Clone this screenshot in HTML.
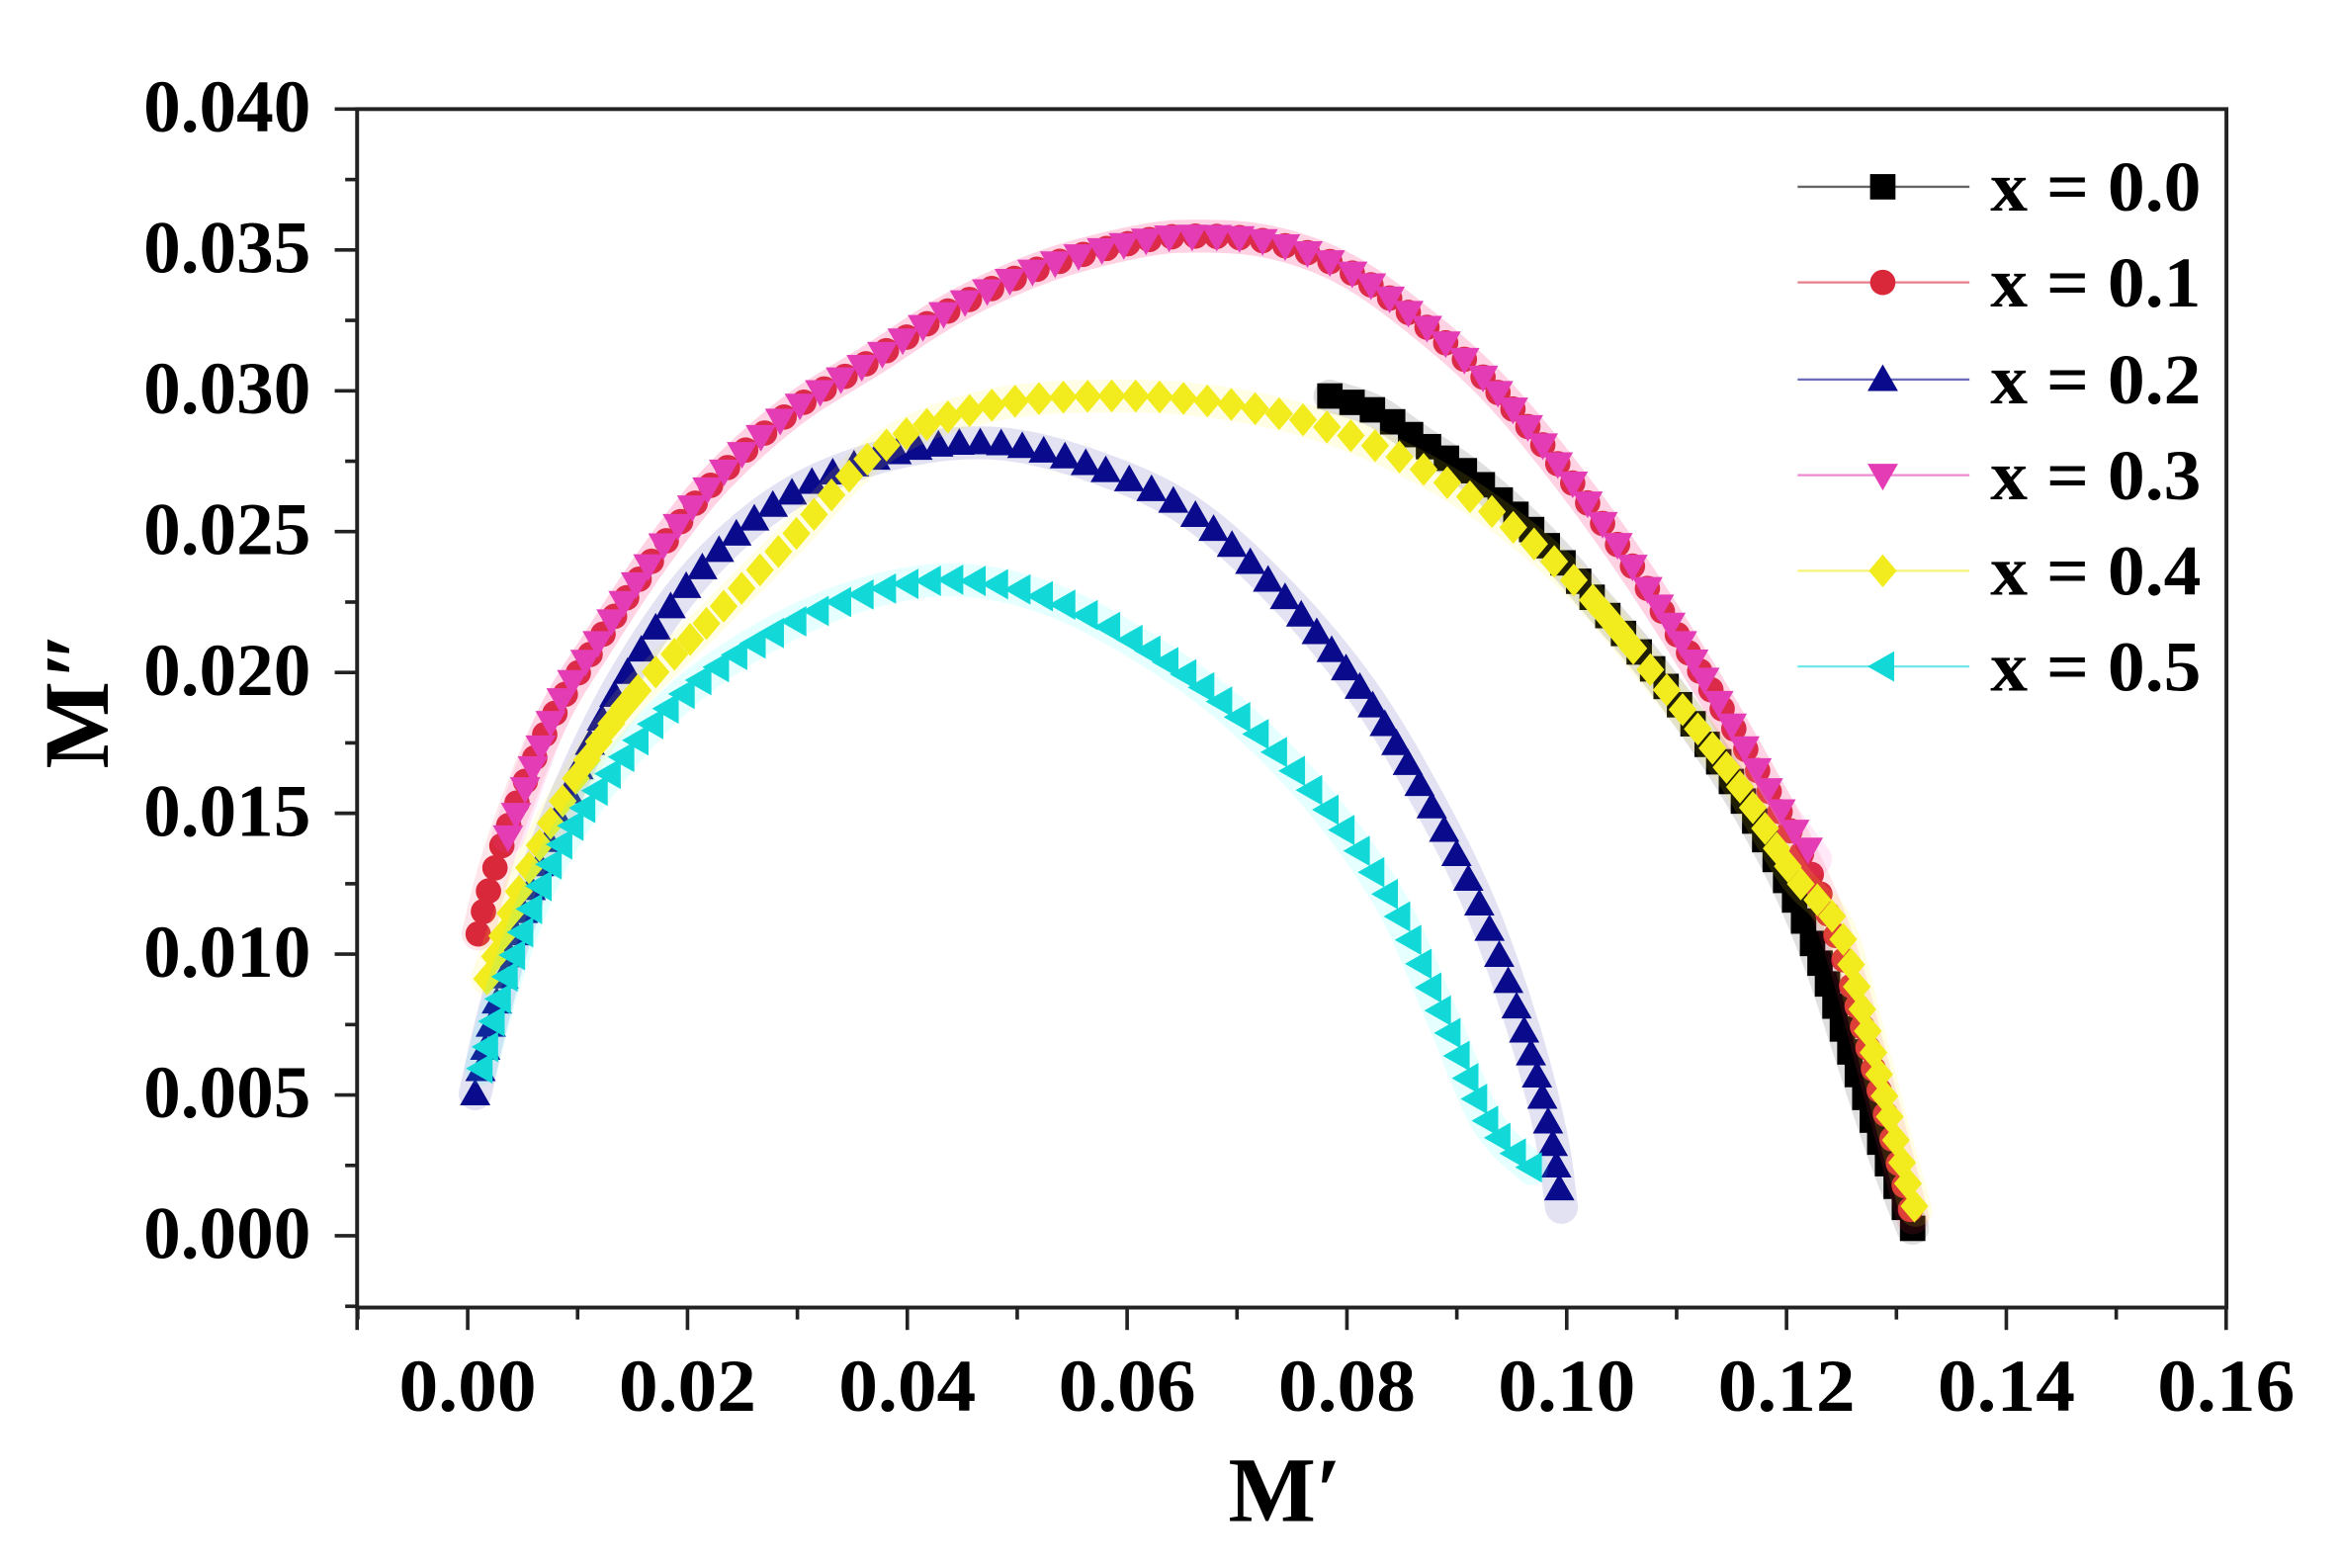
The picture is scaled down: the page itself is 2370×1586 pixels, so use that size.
<!DOCTYPE html>
<html><head><meta charset="utf-8"><style>
html,body{margin:0;padding:0;background:#fff;}
svg{display:block;}
text{font-family:"Liberation Serif",serif;font-weight:bold;fill:#000;}
</style></head><body>
<svg id="s" width="2370" height="1586" viewBox="0 0 1568 1049.3" xmlns="http://www.w3.org/2000/svg">
<rect x="0" y="0" width="1568" height="1050" fill="#fff"/>
<g id="series"></g>
<g id="axes" stroke="#222" stroke-width="2.6" fill="none">
<rect x="239" y="73" width="1251" height="802"/>
</g>
<g id="ticks" stroke="#222" stroke-width="2.4"></g>
<g id="labels" font-size="50"></g>
<g id="legend"></g>
<text x="0" y="0" font-size="62" text-anchor="middle" transform="translate(72,468) rotate(-90)">M″</text>
<text x="860" y="1018" font-size="62" text-anchor="middle">M′</text>
</svg>
<script>
var NS="http://www.w3.org/2000/svg";
function el(t,a,p){var e=document.createElementNS(NS,t);for(var k in a)e.setAttribute(k,a[k]);(p||document.getElementById('s')).appendChild(e);return e;}
var T=document.getElementById('ticks'),L=document.getElementById('labels');
for(var i=0;i<=8;i++){var y=827-i*94.25;el('line',{x1:224,y1:y,x2:239,y2:y},T);
 var t=el('text',{x:208,y:y+15,'text-anchor':'end',textLength:112,lengthAdjust:'spacingAndGlyphs'},L);t.textContent=(i*0.005).toFixed(3);}
for(var i=-1;i<=8;i++){var y=827-i*94.25-47.1;if(y>73&&y<875)el('line',{x1:231,y1:y,x2:239,y2:y},T);}
for(var i=0;i<=8;i++){var x=313+i*147.1;el('line',{x1:x,y1:875,x2:x,y2:890},T);
 var t=el('text',{x:x,y:944,'text-anchor':'middle',textLength:92,lengthAdjust:'spacingAndGlyphs'},L);t.textContent=(i*0.02).toFixed(2);}
for(var i=-1;i<8;i++){var x=313+i*147.1+73.55;el('line',{x1:x,y1:875,x2:x,y2:883},T);}
el('line',{x1:239,y1:875,x2:239,y2:890},T);

function cr(pts,step){var out=[];var dense=[];
 for(var i=0;i<pts.length-1;i++){var p0=pts[Math.max(0,i-1)],p1=pts[i],p2=pts[i+1],p3=pts[Math.min(pts.length-1,i+2)];
  for(var k=0;k<20;k++){var t=k/20,t2=t*t,t3=t2*t;
   var f=function(a,b,c,d){return 0.5*((2*b)+(-a+c)*t+(2*a-5*b+4*c-d)*t2+(-a+3*b-3*c+d)*t3);};
   dense.push([f(p0[0],p1[0],p2[0],p3[0]),f(p0[1],p1[1],p2[1],p3[1])]);}}
 dense.push(pts[pts.length-1]);
 var acc=0;out.push(dense[0]);
 for(var i=1;i<dense.length;i++){var dx=dense[i][0]-dense[i-1][0],dy=dense[i][1]-dense[i-1][1];acc+=Math.sqrt(dx*dx+dy*dy);if(acc>=step){out.push(dense[i]);acc=0;}}
 return {m:out,d:dense};}
function marker(g,type,x,y,c,r){
 if(type=='sq')el('rect',{x:x-r,y:y-r,width:2*r,height:2*r,fill:c},g);
 else if(type=='ci')el('circle',{cx:x,cy:y,r:r,fill:c},g);
 else if(type=='up')el('polygon',{points:(x)+','+(y-r*1.2)+' '+(x-r*1.2)+','+(y+r*0.9)+' '+(x+r*1.2)+','+(y+r*0.9),fill:c},g);
 else if(type=='dn')el('polygon',{points:(x)+','+(y+r*1.2)+' '+(x-r*1.2)+','+(y-r*0.9)+' '+(x+r*1.2)+','+(y-r*0.9),fill:c},g);
 else if(type=='di')el('polygon',{points:x+','+(y-r*1.3)+' '+(x+r*1.1)+','+y+' '+x+','+(y+r*1.3)+' '+(x-r*1.1)+','+y,fill:c},g);
 else if(type=='lf')el('polygon',{points:(x-r*1.2)+','+y+' '+(x+r*0.9)+','+(y-r*1.2)+' '+(x+r*0.9)+','+(y+r*1.2),fill:c},g);
}
var S=document.getElementById('series');
var series=[
 {n:0,c:'#000',h:'#000',t:'sq',p:[[890,265],[920,275],[950,295],[980,315],[1010,340],[1040,370],[1070,405],[1100,440],[1130,480],[1160,525],[1180,560],[1200,600],[1220,650],[1240,710],[1260,770],[1280,822]]},
 {n:1,c:'#d8283a',h:'#ff3050',t:'ci',p:[[320,625],[330,585],[345,540],[370,480],[400,430],[440,370],[480,320],[530,275],[585,240],[640,205],[700,178],[760,162],[800,158],[850,162],[900,180],[950,215],[1000,260],[1050,320],[1100,390],[1150,470],[1200,560],[1230,630],[1255,720],[1280,815]]},
 {n:3,c:'#e43cb4',h:'#ff40c0',t:'dn',p:[[340,560],[370,480],[400,430],[440,370],[480,320],[530,275],[585,240],[640,205],[700,178],[760,162],[800,158],[850,162],[900,180],[950,215],[1000,260],[1050,320],[1100,390],[1150,470],[1190,540],[1215,575]]},
 {n:2,c:'#0a0a8c',h:'#1010a0',t:'up',p:[[318,732],[330,680],[350,610],[380,530],[420,450],[470,380],[530,330],[600,303],[670,297],[740,315],[800,345],[860,400],[910,460],[950,525],[990,605],[1020,690],[1038,760],[1045,808]]},
 {n:4,c:'#f2ec1e',h:'#fff020',t:'di',p:[[326,655],[350,590],[380,530],[420,470],[470,420],[530,360],[590,300],[660,272],[740,265],[820,270],[900,290],[980,330],[1050,385],[1110,455],[1160,520],[1200,585],[1230,620],[1250,690],[1268,760],[1282,810]]},
 {n:5,c:'#12d8d8',h:'#30ffff',t:'lf',p:[[322,715],[340,650],[370,575],[410,515],[460,462],[520,422],[580,397],[640,388],[700,400],[760,430],[820,472],[880,532],[930,602],[965,680],[995,750],[1025,782]]}
];
series.forEach(function(s){var g=el('g',{},S);var r=cr(s.p,14);
 var d='M'+r.d.map(function(q){return q[0].toFixed(1)+','+q[1].toFixed(1);}).join('L');
 el('path',{d:d,fill:'none',stroke:s.h,'stroke-width':22,'stroke-opacity':0.12,'stroke-linejoin':'round','stroke-linecap':'round'},g);
 r.m.forEach(function(q){marker(g,s.t,q[0],q[1],s.c,8.5);});
});
var LG=document.getElementById('legend');
var ly=[125,189,254,318,382,446];
series.forEach(function(s){var i=s.n,y=ly[i];
 el('line',{x1:1203,y1:y,x2:1318,y2:y,stroke:s.c,'stroke-width':1.5,'stroke-opacity':0.6},LG);
 marker(LG,s.t,1260,y,s.c,8.5);
 var t=el('text',{x:1332,y:y+16,'font-size':48,textLength:141,lengthAdjust:'spacingAndGlyphs'},LG);t.textContent='x = 0.'+i;
});
</script>
</body></html>
